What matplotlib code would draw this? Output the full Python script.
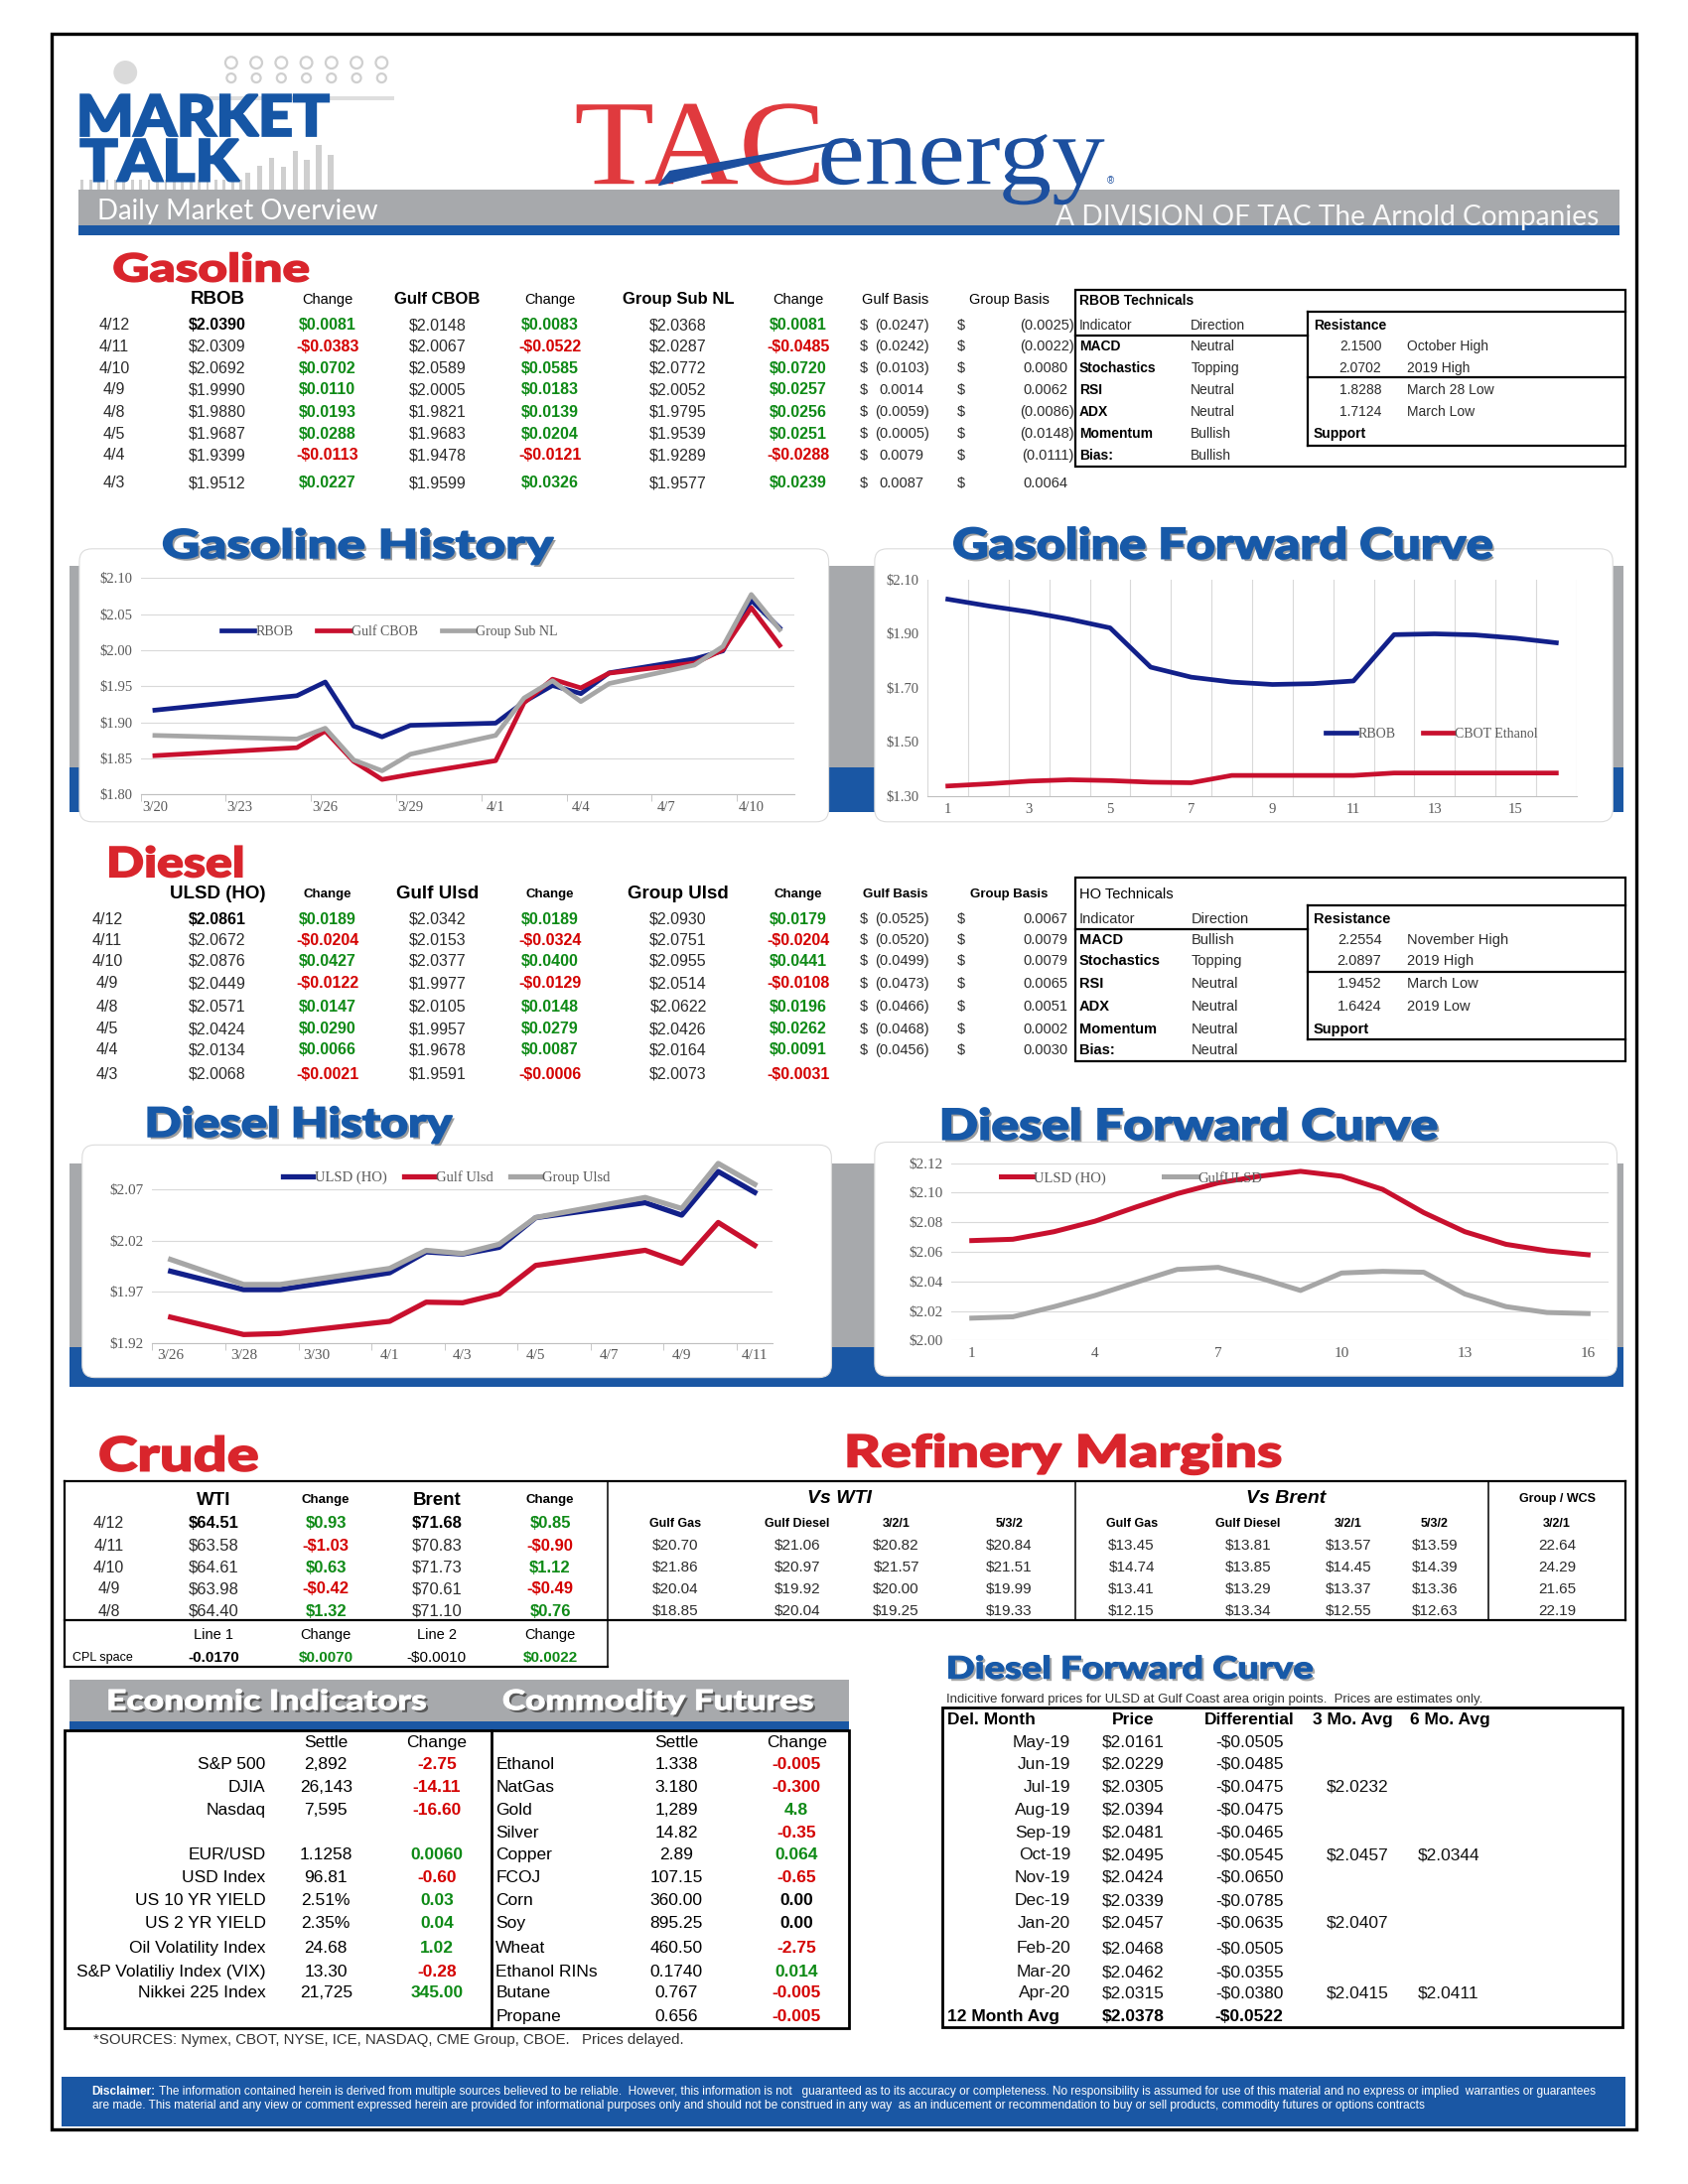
import matplotlib
matplotlib.use('Agg')
import matplotlib.pyplot as plt
import matplotlib.patheffects as pe
from matplotlib.patches import Rectangle, FancyBboxPatch, Polygon, Circle, PathPatch
from matplotlib.textpath import TextPath
from matplotlib.font_manager import FontProperties
from matplotlib.transforms import Affine2D
import pandas as pd

W, H = 1212, 1568          # page layout units (reference as shown on screen)
PX = 1700 / W              # output pixels per layout unit

SANS = ['Liberation Sans', 'DejaVu Sans']
SERIF = ['Liberation Serif', 'DejaVu Serif']
HEAVY = ['Lato', 'DejaVu Sans']

HEAD_RED = '#d9252c'
HEAD_BLUE = '#1759a8'
TXT_RED = '#d40000'
TXT_GREEN = '#0e8a16'
INK = '#2b2b2b'
NAVY = '#12208a'
CRIMSON = '#c8102e'
LINE_GREY = '#a6a6a6'
BAND_GREY = '#a7a9ac'
BAND_BLUE = '#1a57a4'
GRID = '#d9d9d9'
AXIS_TXT = '#595959'

# ---------------- gasoline table ----------------
GAS_DATES = ['4/12', '4/11', '4/10', '4/9', '4/8', '4/5', '4/4', '4/3']
RBOB = [2.0390, 2.0309, 2.0692, 1.9990, 1.9880, 1.9687, 1.9399, 1.9512]
RBOB_CHG = [0.0081, -0.0383, 0.0702, 0.0110, 0.0193, 0.0288, -0.0113, 0.0227]
GULF_CBOB = [2.0148, 2.0067, 2.0589, 2.0005, 1.9821, 1.9683, 1.9478, 1.9599]
GULF_CBOB_CHG = [0.0083, -0.0522, 0.0585, 0.0183, 0.0139, 0.0204, -0.0121, 0.0326]
GROUP_NL = [2.0368, 2.0287, 2.0772, 2.0052, 1.9795, 1.9539, 1.9289, 1.9577]
GROUP_NL_CHG = [0.0081, -0.0485, 0.0720, 0.0257, 0.0256, 0.0251, -0.0288, 0.0239]
GAS_GULF_BASIS = [-0.0247, -0.0242, -0.0103, 0.0014, -0.0059, -0.0005, 0.0079, 0.0087]
GAS_GROUP_BASIS = [-0.0025, -0.0022, 0.0080, 0.0062, -0.0086, -0.0148, -0.0111, 0.0064]

TECH_INDICATORS = ['MACD', 'Stochastics', 'RSI', 'ADX', 'Momentum', 'Bias:']
RBOB_DIRECTION = ['Neutral', 'Topping', 'Neutral', 'Neutral', 'Bullish', 'Bullish']
RBOB_LEVELS = ['2.1500', '2.0702', '1.8288', '1.7124']
RBOB_LEVEL_NOTES = ['October High', '2019 High', 'March 28 Low', 'March Low']

# ---------------- diesel table ----------------
DSL_DATES = ['4/12', '4/11', '4/10', '4/9', '4/8', '4/5', '4/4', '4/3']
ULSD = [2.0861, 2.0672, 2.0876, 2.0449, 2.0571, 2.0424, 2.0134, 2.0068]
ULSD_CHG = [0.0189, -0.0204, 0.0427, -0.0122, 0.0147, 0.0290, 0.0066, -0.0021]
GULF_ULSD = [2.0342, 2.0153, 2.0377, 1.9977, 2.0105, 1.9957, 1.9678, 1.9591]
GULF_ULSD_CHG = [0.0189, -0.0324, 0.0400, -0.0129, 0.0148, 0.0279, 0.0087, -0.0006]
GROUP_ULSD = [2.0930, 2.0751, 2.0955, 2.0514, 2.0622, 2.0426, 2.0164, 2.0073]
GROUP_ULSD_CHG = [0.0179, -0.0204, 0.0441, -0.0108, 0.0196, 0.0262, 0.0091, -0.0031]
DSL_GULF_BASIS = [-0.0525, -0.0520, -0.0499, -0.0473, -0.0466, -0.0468, -0.0456]
DSL_GROUP_BASIS = [0.0067, 0.0079, 0.0079, 0.0065, 0.0051, 0.0002, 0.0030]

HO_DIRECTION = ['Bullish', 'Topping', 'Neutral', 'Neutral', 'Neutral', 'Neutral']
HO_LEVELS = ['2.2554', '2.0897', '1.9452', '1.6424']
HO_LEVEL_NOTES = ['November High', '2019 High', 'March Low', '2019 Low']

# ---------------- charts ----------------
GH_DATES = ['3/20', '3/25', '3/26', '3/27', '3/28', '3/29', '4/1', '4/2', '4/3', '4/4', '4/5',
            '4/8', '4/9', '4/10', '4/11']
GH_RBOB = [1.917, 1.937, 1.956, 1.895, 1.880, 1.896, 1.899, 1.9285, 1.9512, 1.9399, 1.9687,
           1.9880, 1.9990, 2.0692, 2.0309]
GH_GULF = [1.854, 1.865, 1.888, 1.846, 1.821, 1.828, 1.847, 1.9273, 1.9599, 1.9478, 1.9683,
           1.9821, 2.0005, 2.0589, 2.0067]
GH_GROUP = [1.882, 1.877, 1.892, 1.848, 1.833, 1.856, 1.882, 1.9338, 1.9577, 1.9289, 1.9539,
            1.9795, 2.0052, 2.0772, 2.0287]
GH_YTICKS = [1.80, 1.85, 1.90, 1.95, 2.00, 2.05, 2.10]

FWD_MONTHS = [1, 2, 3, 4, 5, 6, 7, 8, 9, 10, 11, 12, 13, 14, 15, 16]
GF_RBOB = [2.027, 2.002, 1.980, 1.953, 1.921, 1.776, 1.739, 1.721, 1.712, 1.715, 1.725,
           1.896, 1.899, 1.895, 1.883, 1.866]
GF_ETHANOL = [1.337, 1.345, 1.355, 1.360, 1.357, 1.351, 1.349, 1.376, 1.376, 1.376, 1.376,
              1.385, 1.385, 1.385, 1.385, 1.385]
GF_YTICKS = [1.30, 1.50, 1.70, 1.90, 2.10]
GF_XTICKS = [1, 3, 5, 7, 9, 11, 13, 15]

DH_DATES = ['3/26', '3/28', '3/29', '4/1', '4/2', '4/3', '4/4', '4/5', '4/8', '4/9', '4/10', '4/11']
DH_ULSD = [1.990, 1.972, 1.972, 1.9885, 2.0089, 2.0068, 2.0134, 2.0424, 2.0571, 2.0449, 2.0876, 2.0672]
DH_GULF = [1.945, 1.928, 1.929, 1.941, 1.9597, 1.9591, 1.9678, 1.9957, 2.0105, 1.9977, 2.0377, 2.0153]
DH_GROUP = [2.0015, 1.977, 1.977, 1.9927, 2.0104, 2.0073, 2.0164, 2.0426, 2.0622, 2.0514, 2.0955, 2.0751]
DH_YTICKS = [1.92, 1.97, 2.02, 2.07]

DF_ULSD = [2.0676, 2.0685, 2.0736, 2.0807, 2.0903, 2.0993, 2.1066, 2.1111, 2.1144, 2.1111, 2.1022,
           2.0865, 2.0736, 2.0651, 2.0607, 2.0580]
DF_GULF = [2.0152, 2.0161, 2.0229, 2.0305, 2.0394, 2.0481, 2.0495, 2.0424, 2.0339, 2.0457, 2.0468,
           2.0462, 2.0315, 2.0230, 2.0190, 2.0183]
DF_YTICKS = [2.00, 2.02, 2.04, 2.06, 2.08, 2.10, 2.12]
DF_XTICKS = [1, 4, 7, 10, 13, 16]

# ---------------- crude / margins ----------------
CRUDE_DATES = ['4/12', '4/11', '4/10', '4/9', '4/8']
WTI = [64.51, 63.58, 64.61, 63.98, 64.40]
WTI_CHG = [0.93, -1.03, 0.63, -0.42, 1.32]
BRENT = [71.68, 70.83, 71.73, 70.61, 71.10]
BRENT_CHG = [0.85, -0.90, 1.12, -0.49, 0.76]
MARGIN_HEADS = ['Gulf Gas', 'Gulf Diesel', '3/2/1', '5/3/2']
WTI_GULF_GAS = [20.70, 21.86, 20.04, 18.85]
WTI_GULF_DIESEL = [21.06, 20.97, 19.92, 20.04]
WTI_321 = [20.82, 21.57, 20.00, 19.25]
WTI_532 = [20.84, 21.51, 19.99, 19.33]
BRENT_GULF_GAS = [13.45, 14.74, 13.41, 12.15]
BRENT_GULF_DIESEL = [13.81, 13.85, 13.29, 13.34]
BRENT_321 = [13.57, 14.45, 13.37, 12.55]
BRENT_532 = [13.59, 14.39, 13.36, 12.63]
WCS_321 = [22.64, 24.29, 21.65, 22.19]
CPL_HEADS = ['Line 1', 'Change', 'Line 2', 'Change']
CPL_VALUES = ['-0.0170', '$0.0070', '-$0.0010', '$0.0022']

# ---------------- economic / commodity ----------------
ECON_NAMES = ['S&P 500', 'DJIA', 'Nasdaq', '', 'EUR/USD', 'USD Index', 'US 10 YR YIELD',
              'US 2 YR YIELD', 'Oil Volatility Index', 'S&P Volatiliy Index (VIX)', 'Nikkei 225 Index']
ECON_SETTLE = ['2,892', '26,143', '7,595', '', '1.1258', '96.81', '2.51%', '2.35%', '24.68', '13.30', '21,725']
ECON_CHANGE = ['-2.75', '-14.11', '-16.60', '', '0.0060', '-0.60', '0.03', '0.04', '1.02', '-0.28', '345.00']
COMM_NAMES = ['Ethanol', 'NatGas', 'Gold', 'Silver', 'Copper', 'FCOJ', 'Corn', 'Soy', 'Wheat',
              'Ethanol RINs', 'Butane', 'Propane']
COMM_SETTLE = ['1.338', '3.180', '1,289', '14.82', '2.89', '107.15', '360.00', '895.25', '460.50',
               '0.1740', '0.767', '0.656']
COMM_CHANGE = ['-0.005', '-0.300', '4.8', '-0.35', '0.064', '-0.65', '0.00', '0.00', '-2.75',
               '0.014', '-0.005', '-0.005']

# ---------------- diesel forward table ----------------
FWD_LABELS = ['May-19', 'Jun-19', 'Jul-19', 'Aug-19', 'Sep-19', 'Oct-19', 'Nov-19', 'Dec-19',
              'Jan-20', 'Feb-20', 'Mar-20', 'Apr-20']
FWD_PRICE = [2.0161, 2.0229, 2.0305, 2.0394, 2.0481, 2.0495, 2.0424, 2.0339, 2.0457, 2.0468, 2.0462, 2.0315]
FWD_DIFF = [-0.0505, -0.0485, -0.0475, -0.0475, -0.0465, -0.0545, -0.0650, -0.0785, -0.0635,
            -0.0505, -0.0355, -0.0380]
FWD_AVG3 = [None, None, 2.0232, None, None, 2.0457, None, None, 2.0407, None, None, 2.0415]
FWD_AVG6 = [None, None, None, None, None, 2.0344, None, None, None, None, None, 2.0411]
FWD_12M = (2.0378, -0.0522)

plt.rcParams['font.family'] = SERIF
fig = plt.figure(figsize=(17, 22), dpi=100)
bg = fig.add_axes([0, 0, 1, 1])
bg.set_xlim(0, W)
bg.set_ylim(H, 0)
bg.axis('off')
R = fig.canvas.get_renderer()


def txt(x, y, s, size=11, color=INK, weight='normal', ha='left', va='center', family=SANS,
        style='normal', fit=None, z=5):
    t = bg.text(x, y, s, fontsize=size, color=color, fontweight=weight, ha=ha, va=va,
                family=family, fontstyle=style, zorder=z)
    if fit:
        w = t.get_window_extent(R).width / PX
        t.set_fontsize(size * fit / w)
    return t


def word(x0, x1, top, base, s, color, family=HEAVY, weight='black', ref='H', shadow=None,
         stroke=1.2, z=6):
    # heading drawn as a path, stretched to the box it fills in the reference
    fp = FontProperties(family=family, weight=weight)
    tp = TextPath((0, 0), s, size=100, prop=fp)
    ext = tp.get_extents()
    cap = TextPath((0, 0), ref, size=100, prop=fp).get_extents().y1
    tr = Affine2D().translate(-ext.x0, 0).scale((x1 - x0) / ext.width, -(base - top) / cap).translate(x0, base)
    patch = PathPatch(tr.transform_path(tp), fc=color, ec=color if stroke else 'none',
                      lw=stroke, zorder=z)
    if shadow:
        patch.set_path_effects([pe.SimplePatchShadow(offset=(1.8, -1.8), shadow_rgbFace=shadow, alpha=0.85),
                                pe.Normal()])
    bg.add_patch(patch)


def box(x0, y0, x1, y1, color, z=1):
    bg.add_patch(Rectangle((x0, y0), x1 - x0, y1 - y0, color=color, lw=0, zorder=z))


def hline(y, x0, x1, lw=1.6):
    bg.plot([x0, x1], [y, y], color='black', lw=lw, solid_capstyle='projecting', zorder=4)


def vline(x, y0, y1, lw=1.6):
    bg.plot([x, x], [y0, y1], color='black', lw=lw, solid_capstyle='projecting', zorder=4)


def frame(x0, y0, x1, y1, lw=1.6, z=4):
    bg.add_patch(Rectangle((x0, y0), x1 - x0, y1 - y0, fill=False, ec='black', lw=lw, zorder=z))


def panel(x0, y0, x1, y1):
    bg.add_patch(FancyBboxPatch((x0, y0), x1 - x0, y1 - y0, boxstyle='round,pad=0,rounding_size=9',
                                fc='white', ec='#dcdcdc', lw=0.8, zorder=2))


def sign_color(s):
    v = float(str(s).replace(',', '').replace('$', ''))
    return TXT_RED if v < 0 else (TXT_GREEN if v > 0 else 'black')


def fmt_change(v, d=4):
    return f'-${abs(v):.{d}f}' if v < 0 else f'${v:.{d}f}'


# ================= header =================
box(56, 136, 1163, 162, BAND_GREY)
box(56, 162, 1163, 169, BAND_BLUE)
LOGO_GREY = '#cfcfcf'
for k, top in enumerate([124, 119, 113, 120, 108, 115, 104, 111]):
    box(176 + 8.5 * k, top, 180 + 8.5 * k, 136, LOGO_GREY)
for k in range(20):
    box(58 + 6 * k, 129, 60 + 6 * k, 136, LOGO_GREY)
box(150, 69, 283, 72, '#dedede')
for k in range(7):
    bg.add_patch(Circle((166 + 18 * k, 45), 4.2, fill=False, ec=LOGO_GREY, lw=1.6, zorder=1))
    bg.add_patch(Circle((166 + 18 * k, 56), 3.2, fill=False, ec=LOGO_GREY, lw=1.6, zorder=1))
bg.add_patch(Circle((90, 52), 8, color='#dadada', zorder=1))
word(58, 236, 68, 97.5, 'MARKET', '#1656a5', stroke=1.6)
word(58, 172, 100, 130, 'TALK', '#1656a5', stroke=1.6)
txt(70, 152, 'Daily Market Overview', size=13, color='white', family=['Lato', 'DejaVu Sans'], fit=201)

word(414, 588, 75, 132, 'TAC', '#e03a3e', family=SERIF, weight='normal', stroke=0)
word(590, 793, 100, 132, 'energy', '#1c4f9f', family=SERIF, weight='normal', ref='x', stroke=0)
bg.add_patch(Polygon([(473, 133), (481, 123), (613, 100), (505, 125)], color='#1c4f9f', zorder=7))
txt(795, 130, '®', size=7, color='#1c4f9f')
txt(758, 156, 'A DIVISION OF TAC The Arnold Companies', size=14, color='#f7f7f7',
    family=['Lato', 'DejaVu Sans'], fit=390)

# ================= gasoline / diesel tables =================
VAL_X = [156, 314, 487]
CHG_X = [235, 395, 573]


def product_table(dates, rows_y, date_x, values, changes, gulf_basis, group_basis, size, bsize):
    for i, y in enumerate(rows_y):
        txt(date_x, y, dates[i], size=size, ha='center')
        for j in range(3):
            first = i == 0 and j == 0
            txt(VAL_X[j], y, f'${values[j][i]:.4f}', size=size, ha='center',
                color='black' if first else INK, weight='bold' if first else 'normal')
            c = changes[j][i]
            txt(CHG_X[j], y, fmt_change(c), size=size, ha='center', weight='bold', color=sign_color(c))
        if i < len(gulf_basis):
            for dollar_x, right_x, v in ((620, 667, gulf_basis[i]), (690, 771, group_basis[i])):
                txt(dollar_x, y, '$', size=bsize, ha='center')
                s = f'({abs(v):.4f})' if v < 0 else f'{v:.4f}'
                txt(right_x if v < 0 else right_x - 4, y, s, size=bsize, ha='right')


def technicals(rows_y, title, title_weight, title_y, top, inner_top, ind_y, sep_y, inner_bot, bottom,
               dirs, levels, notes, size):
    frame(772, top, 1167, bottom)
    hline(inner_top, 939, 1167)
    vline(939, inner_top, inner_bot)
    hline(ind_y, 772, 939)
    hline(sep_y, 939, 1167)
    hline(inner_bot, 939, 1167)
    txt(775, title_y, title, size=size, weight=title_weight, color='black')
    txt(775, rows_y[0], 'Indicator', size=size)
    txt(855, rows_y[0], 'Direction', size=size)
    for y, name, d in zip(rows_y[1:], TECH_INDICATORS, dirs):
        txt(775, y, name, size=size, weight='bold', color='black')
        txt(855, y, d, size=size)
    txt(943, rows_y[0], 'Resistance', size=size, weight='bold', color='black')
    for y, lv, note in zip(rows_y[1:5], levels, notes):
        txt(992, y, lv, size=size, ha='right')
        txt(1010, y, note, size=size)
    txt(943, rows_y[5], 'Support', size=size, weight='bold', color='black')


word(82, 221.4, 182, 202, 'Gasoline', HEAD_RED)
G_ROWS = [233.5, 249, 264.5, 280, 296, 311.5, 327, 347]
for text, x, fs, w in [('RBOB', 156, 13.5, 'bold'), ('Change', 235, 10.5, 'normal'),
                       ('Gulf CBOB', 314, 12, 'bold'), ('Change', 395, 10.5, 'normal'),
                       ('Group Sub NL', 487, 12, 'bold'), ('Change', 573, 10.5, 'normal'),
                       ('Gulf Basis', 643, 10.5, 'normal'), ('Group Basis', 724.5, 10.5, 'normal')]:
    txt(x, 215, text, size=fs, weight=w, ha='center', color='black')
product_table(GAS_DATES, G_ROWS, 82, [RBOB, GULF_CBOB, GROUP_NL], [RBOB_CHG, GULF_CBOB_CHG, GROUP_NL_CHG],
              GAS_GULF_BASIS, GAS_GROUP_BASIS, 11.5, 10.5)
technicals(G_ROWS[:7], 'RBOB Technicals', 'bold', 216, 208, 224, 241, 271, 320, 335,
           RBOB_DIRECTION, RBOB_LEVELS, RBOB_LEVEL_NOTES, 10)

word(79, 173.7, 608, 629.5, 'Diesel', HEAD_RED)
D_ROWS = [660, 675, 690, 706, 723, 739, 754, 771.5]
for text, x, fs, w in [('ULSD (HO)', 156, 13.5, 'bold'), ('Change', 235, 9.5, 'bold'),
                       ('Gulf Ulsd', 314, 13.5, 'bold'), ('Change', 395, 9.5, 'bold'),
                       ('Group Ulsd', 487, 13.5, 'bold'), ('Change', 573, 9.5, 'bold'),
                       ('Gulf Basis', 643, 9.5, 'bold'), ('Group Basis', 724.5, 9.5, 'bold')]:
    txt(x, 642, text, size=fs, weight=w, ha='center', color='black')
product_table(DSL_DATES, D_ROWS, 77, [ULSD, GULF_ULSD, GROUP_ULSD], [ULSD_CHG, GULF_ULSD_CHG, GROUP_ULSD_CHG],
              DSL_GULF_BASIS, DSL_GROUP_BASIS, 11.5, 10.5)
technicals(D_ROWS[:7], 'HO Technicals', 'normal', 642, 630, 650, 667, 698, 746, 762,
           HO_DIRECTION, HO_LEVELS, HO_LEVEL_NOTES, 10.5)

# ================= chart bands, panels, titles =================
box(50, 406, 1166, 551, BAND_GREY)
box(50, 551, 1166, 583, BAND_BLUE)
panel(57, 394, 595, 590)
panel(628, 394, 1158, 590)
word(117.4, 397.4, 380, 400.5, 'Gasoline History', HEAD_BLUE, shadow='#8c8c8c')
word(685, 1071, 379, 401, 'Gasoline Forward Curve', HEAD_BLUE, shadow='#8c8c8c')

box(50, 835.5, 1166, 967.5, BAND_GREY)
box(50, 967.5, 1166, 996, BAND_BLUE)
panel(59, 822, 597, 989)
panel(628, 820, 1161, 988)
word(106.4, 324.7, 795, 816, 'Diesel History', HEAD_BLUE, shadow='#8c8c8c')
word(677, 1031.5, 796, 818, 'Diesel Forward Curve', HEAD_BLUE, shadow='#8c8c8c')


def chart_axes(x0, y0, x1, y1, yticks, ylim, tick_size):
    ax = fig.add_axes([x0 / W, 1 - y1 / H, (x1 - x0) / W, (y1 - y0) / H])
    ax.patch.set_alpha(0)
    for s in ('top', 'right', 'left'):
        ax.spines[s].set_visible(False)
    ax.spines['bottom'].set_color('#bfbfbf')
    ax.spines['bottom'].set_linewidth(0.8)
    ax.set_ylim(*ylim)
    ax.set_yticks(yticks)
    ax.set_yticklabels([f'${v:.2f}' for v in yticks])
    ax.tick_params(which='major', length=0, labelsize=tick_size, labelcolor=AXIS_TXT)
    ax.tick_params(axis='y', pad=6)
    ax.tick_params(axis='x', pad=5)
    return ax


def legend(ax, anchor, ncol, size, handlelen, spacing):
    ax.legend(loc='center left', bbox_to_anchor=anchor, ncol=ncol, frameon=False, fontsize=size,
              handlelength=handlelen, handletextpad=0.1, columnspacing=spacing, borderaxespad=0,
              borderpad=0, labelcolor=AXIS_TXT)


def date_axis(ax, dates, step):
    half = pd.Timedelta(hours=12)
    ticks = pd.date_range(dates[0], dates[-1], freq=step)
    ax.set_xticks(ticks)
    ax.set_xticklabels([f'{t.month}/{t.day}' for t in ticks])
    ax.set_xticks(ticks - half, minor=True)
    ax.tick_params(axis='x', which='minor', length=5, color='#bfbfbf')
    ax.set_xlim(dates[0] - half, dates[-1] + half)


def to_dates(labels):
    return pd.to_datetime(['2019/' + s for s in labels], format='%Y/%m/%d')


# Gasoline History
ax = chart_axes(101, 415, 570, 570.5, GH_YTICKS, (1.80, 2.10), 10.5)
d = to_dates(GH_DATES)
ax.plot(d, GH_RBOB, color=NAVY, lw=3.4, label='RBOB')
ax.plot(d, GH_GULF, color=CRIMSON, lw=3.4, label='Gulf CBOB')
ax.plot(d, GH_GROUP, color=LINE_GREY, lw=3.4, label='Group Sub NL')
ax.grid(axis='y', color=GRID, lw=0.8)
ax.set_axisbelow(True)
date_axis(ax, d, '3D')
legend(ax, ((159 - 101) / 469, (570.5 - 453.5) / 155.5), 3, 10, 2.4, 1.7)

# Gasoline Forward Curve
ax = chart_axes(666, 416, 1132, 571.5, GF_YTICKS, (1.30, 2.10), 10.5)
ax.plot(FWD_MONTHS, GF_RBOB, color=NAVY, lw=3.4, label='RBOB')
ax.plot(FWD_MONTHS, GF_ETHANOL, color=CRIMSON, lw=3.4, label='CBOT Ethanol')
ax.set_xlim(0.5, 16.5)
ax.set_xticks(GF_XTICKS)
ax.set_xticks([m - 0.5 for m in FWD_MONTHS] + [16.5], minor=True)
ax.grid(axis='x', which='minor', color=GRID, lw=0.8)
ax.tick_params(axis='x', which='minor', length=0)
ax.set_axisbelow(True)
legend(ax, ((952 - 666) / 466, (571.5 - 527) / 155.5), 2, 10, 2.2, 2.0)

# Diesel History
ax = chart_axes(109.4, 832, 555, 964, DH_YTICKS, (1.92, 2.10), 11)
d = to_dates(DH_DATES)
ax.plot(d, DH_ULSD, color=NAVY, lw=3.8, label='ULSD (HO)')
ax.plot(d, DH_GULF, color=CRIMSON, lw=3.8, label='Gulf Ulsd')
ax.plot(d, DH_GROUP, color=LINE_GREY, lw=3.8, label='Group Ulsd')
ax.grid(axis='y', color=GRID, lw=0.8)
ax.set_axisbelow(True)
date_axis(ax, d, '2D')
legend(ax, ((203 - 109.4) / 445.6, (964 - 845.5) / 132), 3, 10.5, 2.1, 1.2)

# Diesel Forward Curve
ax = chart_axes(683, 835, 1155, 962.5, DF_YTICKS, (2.00, 2.12), 11)
ax.plot(FWD_MONTHS, DF_ULSD, color=CRIMSON, lw=3.6, label='ULSD (HO)')
ax.plot(FWD_MONTHS, DF_GULF, color=LINE_GREY, lw=3.6, label='GulfULSD')
ax.set_xlim(0.5, 16.5)
ax.set_xticks(DF_XTICKS)
ax.grid(axis='y', color=GRID, lw=0.8)
ax.spines['bottom'].set_visible(False)
ax.set_axisbelow(True)
legend(ax, ((718.5 - 683) / 472, (962.5 - 846) / 127.5), 2, 10.5, 2.2, 4.0)

# ================= crude & refinery margins =================
word(72, 184.7, 1031.5, 1056, 'Crude', HEAD_RED)
word(609, 919.5, 1030, 1053, 'Refinery Margins', HEAD_RED)
hline(1063.5, 46, 1167)
hline(1163.5, 46, 1167)
vline(46, 1063.5, 1197)
vline(1167, 1063.5, 1163.5)
vline(436, 1063.5, 1197, lw=1.1)
vline(772, 1063.5, 1163.5, lw=1.1)
vline(1069, 1063.5, 1163.5, lw=1.1)
hline(1197, 46, 436)

C_ROWS = [1093.7, 1110, 1125.5, 1141, 1157]
CRUDE_X = [153.5, 234, 313.5, 395]
for text, x, fs in zip(['WTI', 'Change', 'Brent', 'Change'], CRUDE_X, [13.5, 9.5, 13.5, 9.5]):
    txt(x, 1077, text, size=fs, weight='bold', ha='center', color='black')
for i, y in enumerate(C_ROWS):
    txt(78, y, CRUDE_DATES[i], size=11.5, ha='center')
    for x, v in ((CRUDE_X[0], WTI[i]), (CRUDE_X[2], BRENT[i])):
        txt(x, y, f'${v:.2f}', size=12, ha='center', weight='bold' if i == 0 else 'normal',
            color='black' if i == 0 else INK)
    for x, v in ((CRUDE_X[1], WTI_CHG[i]), (CRUDE_X[3], BRENT_CHG[i])):
        txt(x, y, fmt_change(v, 2), size=12, ha='center', weight='bold', color=sign_color(v))

txt(603, 1076, 'Vs WTI', size=14, weight='bold', style='italic', ha='center', color='black')
txt(923, 1076, 'Vs Brent', size=14, weight='bold', style='italic', ha='center', color='black')
txt(1118, 1076, 'Group / WCS', size=9, weight='bold', ha='center', color='black')
MARGIN_X = [485, 572.5, 643.5, 724.5, 812.5, 896, 968, 1030]
margin_cols = [WTI_GULF_GAS, WTI_GULF_DIESEL, WTI_321, WTI_532,
               BRENT_GULF_GAS, BRENT_GULF_DIESEL, BRENT_321, BRENT_532]
for k, (x, col) in enumerate(zip(MARGIN_X, margin_cols)):
    txt(x, C_ROWS[0], MARGIN_HEADS[k % 4], size=9, weight='bold', ha='center', color='black')
    for y, v in zip(C_ROWS[1:], col):
        txt(x, y, f'${v:.2f}', size=11, ha='center')
txt(1118, C_ROWS[0], '3/2/1', size=9, weight='bold', ha='center', color='black')
for y, v in zip(C_ROWS[1:], WCS_321):
    txt(1118, y, f'{v:.2f}', size=11, ha='center')

for x, head, val in zip(CRUDE_X, CPL_HEADS, CPL_VALUES):
    txt(x, 1174, head, size=10.5, ha='center', color='black')
    col = TXT_GREEN if val.startswith('$') else 'black'
    txt(x, 1190, val, size=11, ha='center', color=col,
        weight='normal' if val == '-$0.0010' else 'bold')
txt(52, 1190.5, 'CPL space', size=9, color='black')

# ================= economic indicators / commodity futures =================
box(50, 1206, 609.6, 1236, BAND_GREY)
box(50, 1236, 609.6, 1242, BAND_BLUE)
word(78.2, 305.6, 1213, 1227.5, 'Economic Indicators', 'white', shadow='#4a4a4a', stroke=0.6)
word(361.5, 583.5, 1213, 1227.5, 'Commodity Futures', 'white', shadow='#4a4a4a', stroke=0.6)
frame(46.5, 1242, 609.6, 1456, lw=2)
vline(353, 1242, 1456, lw=2)

E_ROWS = [1266.7, 1283, 1299.5, 1316, 1332, 1348, 1364.6, 1380.8, 1399, 1416, 1431, 1448]
ES = 12.5
txt(234, 1251, 'Settle', size=ES, ha='center', color='black')
txt(313.7, 1251, 'Change', size=ES, ha='center', color='black')
txt(485.6, 1251, 'Settle', size=ES, ha='center', color='black')
txt(572, 1251, 'Change', size=ES, ha='center', color='black')
for y, name, settle, ch in zip(E_ROWS, ECON_NAMES, ECON_SETTLE, ECON_CHANGE):
    if not name:
        continue
    txt(190.8, y, name, size=ES, ha='right', color='black')
    txt(234, y, settle, size=ES, ha='center', color='black')
    txt(313.7, y, ch, size=ES, ha='center', weight='bold', color=sign_color(ch))
for y, name, settle, ch in zip(E_ROWS, COMM_NAMES, COMM_SETTLE, COMM_CHANGE):
    txt(356, y, name, size=ES, color='black')
    txt(485.6, y, settle, size=ES, ha='center', color='black')
    txt(572, y, ch, size=ES, ha='center', weight='bold', color=sign_color(ch))
txt(67, 1465, '*SOURCES: Nymex, CBOT, NYSE, ICE, NASDAQ, CME Group, CBOE.   Prices delayed.',
    size=9.5, color='#333333', fit=427)

# ================= diesel forward curve table =================
word(681.3, 942.3, 1189, 1205, 'Diesel Forward Curve', HEAD_BLUE, shadow='#9a9a9a', stroke=0.8)
txt(679.7, 1220, 'Indicitive forward prices for ULSD at Gulf Coast area origin points.  '
    'Prices are estimates only.', size=8, color='#333333', fit=386)
frame(676.6, 1226, 1165, 1455.6, lw=2)
FS = 12.5
txt(680, 1234.6, 'Del. Month', size=FS, weight='bold', color='black')
for x, head in ((813.5, 'Price'), (897, 'Differential'), (971.6, '3 Mo. Avg'), (1041, '6 Mo. Avg')):
    txt(x, 1234.6, head, size=FS, weight='bold', ha='center', color='black')
F_ROWS = [1251] + E_ROWS[:11]
for i, y in enumerate(F_ROWS):
    txt(768.7, y, FWD_LABELS[i], size=FS, ha='right', color='#111111')
    txt(813.5, y, f'${FWD_PRICE[i]:.4f}', size=FS, ha='center', color='#111111')
    txt(921.6, y, fmt_change(FWD_DIFF[i]), size=FS, ha='right', color='#111111')
    if FWD_AVG3[i] is not None:
        txt(974.6, y, f'${FWD_AVG3[i]:.4f}', size=FS, ha='center', color='#111111')
    if FWD_AVG6[i] is not None:
        txt(1040, y, f'${FWD_AVG6[i]:.4f}', size=FS, ha='center', color='#111111')
txt(680, 1447.8, '12 Month Avg', size=FS, weight='bold', color='black')
txt(813.5, 1447.8, f'${FWD_12M[0]:.4f}', size=FS, weight='bold', ha='center', color='black')
txt(921.6, 1447.8, fmt_change(FWD_12M[1]), size=FS, weight='bold', ha='right', color='black')

# ================= footer =================
box(44, 1491, 1167, 1527, BAND_BLUE)
line1 = [('Disclaimer:', 'bold'),
         (' The information contained herein is derived from multiple sources believed to be reliable.  '
          'However, this information is not   guaranteed as to its accuracy or completeness. No responsibility '
          'is assumed for use of this material and no express or implied  warranties or guarantees', 'normal')]
line2 = [('are made. This material and any view or comment expressed herein are provided for informational '
          'purposes only and should not be construed in any way  as an inducement or recommendation to buy or '
          'sell products, commodity futures or options contracts', 'normal')]


def measure(parts, size):
    total = 0
    for s, w in parts:
        t = txt(0, 0, s, size=size, weight=w)
        total += t.get_window_extent(R).width / PX
        t.remove()
    return total


foot_size = 10 * 1086 / measure(line1, 10)
for y, parts in ((1502, line1), (1512, line2)):
    x = 66
    for s, w in parts:
        t = txt(x, y, s, size=foot_size, weight=w, color='white')
        x += t.get_window_extent(R).width / PX

frame(37, 24, 1175, 1529, lw=2.4, z=10)

fig.savefig('out.png', dpi=100)
